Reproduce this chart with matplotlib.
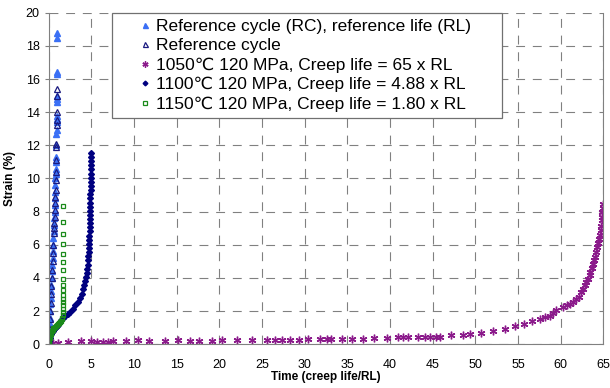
import matplotlib
matplotlib.use("Agg")
import matplotlib.pyplot as plt
from matplotlib.lines import Line2D
from matplotlib.legend_handler import HandlerLine2D

plt.rcParams['font.family'] = ['Liberation Sans', 'DejaVu Sans']

# Reference cycle (RC), reference life (RL)
rc_x = [0.0, 0.03, 0.06, 0.09, 0.12, 0.15, 0.19, 0.23, 0.27, 0.31, 0.35, 0.39,
        0.43, 0.46, 0.49, 0.52, 0.55, 0.58, 0.61, 0.64, 0.67, 0.70, 0.72, 0.74,
        0.76, 0.78, 0.80, 0.83, 0.85, 0.86, 0.88, 0.90, 0.91, 0.92, 0.93, 0.93,
        0.94, 0.95, 0.95, 0.97, 0.97, 1.0, 1.0]
rc_y = [0.0, 0.4, 0.8, 1.2, 1.6, 2.0, 2.4, 2.8, 3.2, 3.6, 4.0, 4.4,
        4.8, 5.2, 5.6, 6.0, 6.4, 6.8, 7.2, 7.6, 8.0, 8.4, 8.8, 9.2,
        9.6, 10.0, 10.3, 10.6, 11.0, 11.3, 12.0, 12.7, 12.9, 13.4, 13.6, 13.8,
        14.6, 14.8, 15.0, 16.3, 16.45, 18.5, 18.8]

# Reference cycle
ref_x = [0.0, 0.04, 0.08, 0.12, 0.17, 0.22, 0.27, 0.31, 0.36, 0.41, 0.46, 0.50,
         0.55, 0.59, 0.62, 0.65, 0.68, 0.71, 0.74, 0.77, 0.80, 0.82, 0.84, 0.86,
         0.88, 0.90, 0.91, 0.93, 0.94, 0.96, 0.97]
ref_y = [0.0, 0.5, 1.0, 1.5, 2.0, 2.5, 3.0, 3.5, 4.0, 4.5, 5.0, 5.5,
         6.0, 6.7, 7.0, 7.3, 7.7, 8.1, 8.5, 8.9, 9.3, 9.9, 10.4, 11.1,
         11.9, 12.1, 13.2, 13.5, 14.0, 15.0, 15.4]

# 1050C 120 MPa
c1050_x = [0.5, 1.1, 2.3, 3.8, 4.9, 5.7, 6.4, 6.9, 7.5, 9.1, 10.5, 11.8,
           13.6, 15.2, 16.5, 17.6, 19.1, 20.3, 22.1, 23.8, 25.6, 26.5, 27.3, 28.3,
           29.3, 30.4, 31.8, 32.6, 33.1, 34.4, 35.6, 36.8, 38.1, 39.6, 40.9, 41.5,
           42.1, 43.3, 44.1, 44.7, 45.4, 45.8, 47.2, 48.6, 49.4, 50.7, 52.1, 53.5,
           54.6, 55.7, 56.6, 57.6, 58.2, 58.7, 59.1, 59.5, 60.3, 60.8, 61.1, 61.5,
           61.8, 62.1, 62.4, 62.6, 62.8, 63.0, 63.2, 63.4, 63.5, 63.7, 63.8, 63.9,
           64.0, 64.1, 64.3, 64.4, 64.5, 64.6, 64.7, 64.75, 64.8, 64.85, 64.9, 64.95,
           65.0]
c1050_y = [0.04, 0.06, 0.12, 0.18, 0.18, 0.15, 0.16, 0.15, 0.18, 0.20, 0.27, 0.20,
           0.20, 0.24, 0.22, 0.22, 0.22, 0.24, 0.25, 0.26, 0.25, 0.27, 0.28, 0.26,
           0.26, 0.30, 0.30, 0.30, 0.31, 0.34, 0.34, 0.34, 0.36, 0.38, 0.42, 0.44,
           0.44, 0.46, 0.46, 0.46, 0.46, 0.46, 0.54, 0.58, 0.64, 0.70, 0.80, 0.94,
           1.10, 1.24, 1.38, 1.54, 1.62, 1.72, 1.89, 2.05, 2.25, 2.35, 2.45, 2.55,
           2.70, 2.85, 3.15, 3.35, 3.55, 3.75, 3.95, 4.15, 4.36, 4.60, 4.86, 5.05,
           5.26, 5.55, 5.86, 6.10, 6.37, 6.60, 6.87, 7.15, 7.47, 7.70, 7.97, 8.20,
           8.43]

# 1100C 120 MPa
c1100_x = [0.0, 0.05, 0.10, 0.15, 0.25, 0.35, 0.45, 0.55, 0.65, 0.75, 0.85, 0.95,
           1.05, 1.15, 1.30, 1.45, 1.65, 1.90, 2.20, 2.50, 2.80, 3.10, 3.40, 3.65,
           3.85, 4.02, 4.15, 4.27, 4.37, 4.45, 4.52, 4.57, 4.61, 4.64, 4.67, 4.70,
           4.72, 4.74, 4.76, 4.78, 4.79, 4.81, 4.82, 4.83, 4.84, 4.85, 4.86, 4.87,
           4.88, 4.89, 4.90, 4.91, 4.92, 4.93, 4.94, 4.95, 4.96, 4.97, 4.98]
c1100_y = [0.0, 0.2, 0.35, 0.5, 0.62, 0.72, 0.80, 0.88, 0.94, 1.00, 1.06, 1.12,
           1.18, 1.25, 1.35, 1.45, 1.55, 1.68, 1.82, 1.97, 2.15, 2.35, 2.57, 2.80,
           3.05, 3.30, 3.55, 3.80, 4.05, 4.30, 4.55, 4.80, 5.05, 5.30, 5.55, 5.80,
           6.05, 6.30, 6.55, 6.80, 7.05, 7.30, 7.55, 7.80, 8.05, 8.30, 8.55, 8.80,
           9.05, 9.30, 9.55, 9.80, 10.05, 10.30, 10.55, 10.80, 11.05, 11.30, 11.55]

# 1150C 120 MPa
c1150_x = [0.0, 0.02, 0.04, 0.07, 0.10, 0.15, 0.20, 0.28, 0.35, 0.45, 0.55, 0.65,
           0.75, 0.85, 0.95, 1.05, 1.15, 1.25, 1.35, 1.45, 1.55, 1.60, 1.63, 1.65,
           1.66, 1.67, 1.67, 1.68, 1.68, 1.68, 1.68, 1.68, 1.68, 1.68, 1.68, 1.68,
           1.68, 1.68, 1.68]
c1150_y = [0.0, 0.1, 0.2, 0.3, 0.4, 0.5, 0.6, 0.7, 0.8, 0.88, 0.95, 1.0,
           1.05, 1.1, 1.15, 1.2, 1.25, 1.3, 1.35, 1.42, 1.5, 1.6, 1.75, 1.95,
           2.15, 2.35, 2.55, 2.75, 2.95, 3.25, 3.55, 3.95, 4.45, 4.95, 5.45, 6.05,
           6.65, 7.35, 8.35]

fig = plt.figure(figsize=(6.1, 3.88), dpi=100)
ax = fig.add_axes([0.080, 0.113, 0.909, 0.854])

ax.plot(rc_x, rc_y, linestyle='none', marker='^', ms=4.5, color='#3a6ff5',
        mec='#3a6ff5', label='Reference cycle (RC), reference life (RL)')
ax.plot(ref_x, ref_y, linestyle='none', marker='^', ms=4.5, mfc='none',
        mec='#1a1a80', mew=0.9, label='Reference cycle')
ax.plot(c1050_x, c1050_y, linestyle='none', marker=(6, 2, 0), ms=5.5,
        color='#8b1a8b', mew=1.0, label='1050\u2103 120 MPa, Creep life = 65 x RL')
ax.plot(c1100_x, c1100_y, linestyle='none', marker='D', ms=3, color='#000080',
        label='1100\u2103 120 MPa, Creep life = 4.88 x RL')
ax.plot(c1150_x, c1150_y, linestyle='none', marker='s', ms=3.5, mfc='none',
        mec='#1a8a1a', mew=0.9, label='1150\u2103 120 MPa, Creep life = 1.80 x RL')

ax.set_xlim(0, 65)
ax.set_ylim(0, 20)
ax.set_xticks(range(0, 66, 5))
ax.set_yticks(range(0, 21, 2))
ax.grid(True, color='#808080', linestyle=(0, (8, 7)), linewidth=0.8)
ax.set_axisbelow(True)

for s in ['left', 'bottom', 'right']:
    ax.spines[s].set_color('#808080')
ax.spines['top'].set_visible(False)
ax.tick_params(axis='both', labelsize=9, color='#808080', length=3)
ax.tick_params(axis='x', length=0, pad=11)

ax.set_xlabel('Time (creep life/RL)', fontsize=8.5, fontweight='bold', labelpad=0)
ax.set_ylabel('Strain (%)', fontsize=8.5, fontweight='bold', labelpad=7)

leg = ax.legend(loc='upper left', bbox_to_anchor=(0.114, 0.0, 0.704, 1.0),
                mode='expand', borderaxespad=0,
                fontsize=12.5, handlelength=1.95, handletextpad=0.23,
                labelspacing=0.24, borderpad=0.35, fancybox=False, framealpha=1,
                edgecolor='#707070', markerscale=0.8,
                handler_map={Line2D: HandlerLine2D(xpad=1.15)})
leg.get_frame().set_linewidth(0.9)

fig.savefig('out.png', dpi=100)
